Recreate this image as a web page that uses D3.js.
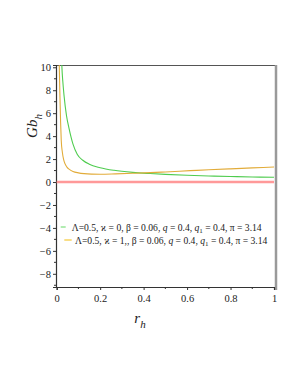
<!DOCTYPE html>
<html>
<head>
<meta charset="utf-8">
<script src="https://cdn.jsdelivr.net/npm/d3@7"></script>
<style>
  html, body { margin: 0; padding: 0; background: #fff; }
  svg { display: block; }
  text { font-family: "Liberation Serif", "Times New Roman", "DejaVu Serif", serif; fill: #222; }
</style>
</head>
<body>
<svg width="298" height="385"></svg>
<script>
//Gb_h vs r_h
var rGreen  = [0.02, 0.024, 0.028, 0.034, 0.045, 0.057, 0.075, 0.095, 0.12, 0.15, 0.2, 0.264, 0.35, 0.43, 0.5, 0.6, 0.7, 0.8, 0.9, 1.0];
var gbGreen = [12.5, 10, 8.8, 7.5, 5.8, 4.65, 3.3, 2.4, 1.9, 1.55, 1.25, 1.02, 0.84, 0.74, 0.67, 0.59, 0.53, 0.48, 0.44, 0.41];

var rOrange  = [0.009, 0.012, 0.015, 0.018, 0.021, 0.026, 0.032, 0.038, 0.047, 0.057, 0.075, 0.1, 0.126, 0.16, 0.2, 0.27, 0.35, 0.43, 0.5, 0.614, 0.7, 0.8, 0.9, 1.0];
var gbOrange = [13, 10, 7.4, 5.2, 3.6, 2.6, 1.95, 1.6, 1.3, 1.12, 0.92, 0.8, 0.73, 0.69, 0.68, 0.71, 0.76, 0.82, 0.88, 0.99, 1.07, 1.15, 1.23, 1.31];

var rZero  = [0, 1];
var gbZero = [0, 0];

var xTicks = [0, 0.2, 0.4, 0.6, 0.8, 1];
var xMinor = [0.1, 0.3, 0.5, 0.7, 0.9];
var yTicks = [-8, -6, -4, -2, 0, 2, 4, 6, 8, 10];
var yMinor = [-9, -7, -5, -3, -1, 1, 3, 5, 7, 9];

var legendItems = [
  { color: '#7ee07e', parts: [['Λ=0.5, ϰ = 0, β = 0.06, ', ''], ['q', 'i'], [' = 0.4, ', ''], ['q', 'i'], ['1', 's'], [' = 0.4, π = 3.14', 'r']] },
  { color: '#f5c838', parts: [['Λ=0.5, ϰ = 1,, β = 0.06, ', ''], ['q', 'i'], [' = 0.4, ', ''], ['q', 'i'], ['1', 's'], [' = 0.4, π = 3.14', 'r']] }
];

(function () {
  'use strict';
  var left = 56, right = 276, top = 65, bottom = 287;

  var x = d3.scaleLinear().domain([0, 1]).range([56.7, 274]);
  var y = d3.scaleLinear().domain([-9.15, 10.2]).range([bottom, top]);

  var svg = d3.select('svg');

  svg.append('clipPath').attr('id', 'plotclip')
    .append('rect').attr('x', left).attr('y', top).attr('width', right - left).attr('height', bottom - top);

  // frame
  svg.append('line').attr('x1', left).attr('x2', right).attr('y1', top + 0.5).attr('y2', top + 0.5)
    .attr('stroke', '#555').attr('stroke-width', 1.2);
  svg.append('line').attr('x1', right).attr('x2', right).attr('y1', top).attr('y2', bottom + 3)
    .attr('stroke', '#9a9a9a').attr('stroke-width', 2.5);

  // axes
  var xAxis = svg.append('g').attr('transform', 'translate(0,' + bottom + ')')
    .call(d3.axisBottom(x).tickValues(xTicks).tickSize(3).tickPadding(5)
      .tickFormat(function (d) { return d === 0 || d === 1 ? d : d3.format('.1f')(d); }));
  xMinor.forEach(function (d) {
    xAxis.append('line').attr('x1', x(d)).attr('x2', x(d)).attr('y1', 0).attr('y2', 2)
      .attr('stroke', '#333');
  });

  var yAxis = svg.append('g').attr('transform', 'translate(' + left + ',0)')
    .call(d3.axisLeft(y).tickValues(yTicks).tickSize(3).tickPadding(2)
      .tickFormat(function (d) { return d < 0 ? '\u2212' + Math.abs(d) : d; }));
  yMinor.forEach(function (d) {
    yAxis.append('line').attr('x1', -2).attr('x2', 0).attr('y1', y(d)).attr('y2', y(d))
      .attr('stroke', '#333');
  });

  [xAxis, yAxis].forEach(function (g) {
    g.attr('font-family', null);
    g.select('.domain').attr('stroke', '#333').attr('stroke-width', 1.2);
    g.selectAll('.tick line').attr('stroke', '#333');
    g.selectAll('text').attr('font-size', 10.5).attr('fill', '#222');
  });

  // curves
  var line = d3.line()
    .x(function (d) { return x(d[0]); })
    .y(function (d) { return y(d[1]); })
    .curve(d3.curveMonotoneX);

  var plot = svg.append('g').attr('clip-path', 'url(#plotclip)');

  plot.append('path').datum(d3.zip(rZero, gbZero)).attr('d', line)
    .attr('fill', 'none').attr('stroke', '#ff9999').attr('stroke-width', 2.4);
  plot.append('path').datum(d3.zip(rGreen, gbGreen)).attr('d', line)
    .attr('fill', 'none').attr('stroke', '#4fcc4f').attr('stroke-width', 1.1);
  plot.append('path').datum(d3.zip(rOrange, gbOrange)).attr('d', line)
    .attr('fill', 'none').attr('stroke', '#e2ac3a').attr('stroke-width', 1.1);

  // legend
  var legend = svg.append('g');
  var rows = [{ x1: 60.7, x2: 65.7, tx: 71.7, ty: 227 }, { x1: 64.3, x2: 71.7, tx: 75, ty: 240 }];
  legendItems.forEach(function (item, i) {
    var row = rows[i];
    legend.append('line').attr('x1', row.x1).attr('x2', row.x2).attr('y1', row.ty).attr('y2', row.ty)
      .attr('stroke', item.color).attr('stroke-width', 1.2);
    var t = legend.append('text').attr('x', row.tx).attr('y', row.ty + 3.5).attr('font-size', 9.6);
    item.parts.forEach(function (p) {
      var ts = t.append('tspan').text(p[0]);
      if (p[1] === 'i') ts.attr('font-style', 'italic');
      if (p[1] === 's') ts.attr('font-size', 7).attr('dy', 2.5);
      if (p[1] === 'r') ts.attr('dy', -2.5);
    });
  });

  // axis titles
  var yl = svg.append('text').attr('transform', 'translate(37,126) rotate(-90)')
    .attr('text-anchor', 'middle').attr('font-size', 15).attr('font-style', 'italic');
  yl.append('tspan').text('Gb');
  yl.append('tspan').attr('font-size', 11).attr('dy', 5).text('h');

  var xl = svg.append('text').attr('x', 140).attr('y', 323)
    .attr('text-anchor', 'middle').attr('font-size', 15).attr('font-style', 'italic');
  xl.append('tspan').text('r');
  xl.append('tspan').attr('font-size', 11).attr('dy', 5).text('h');
})();
</script>
</body>
</html>
